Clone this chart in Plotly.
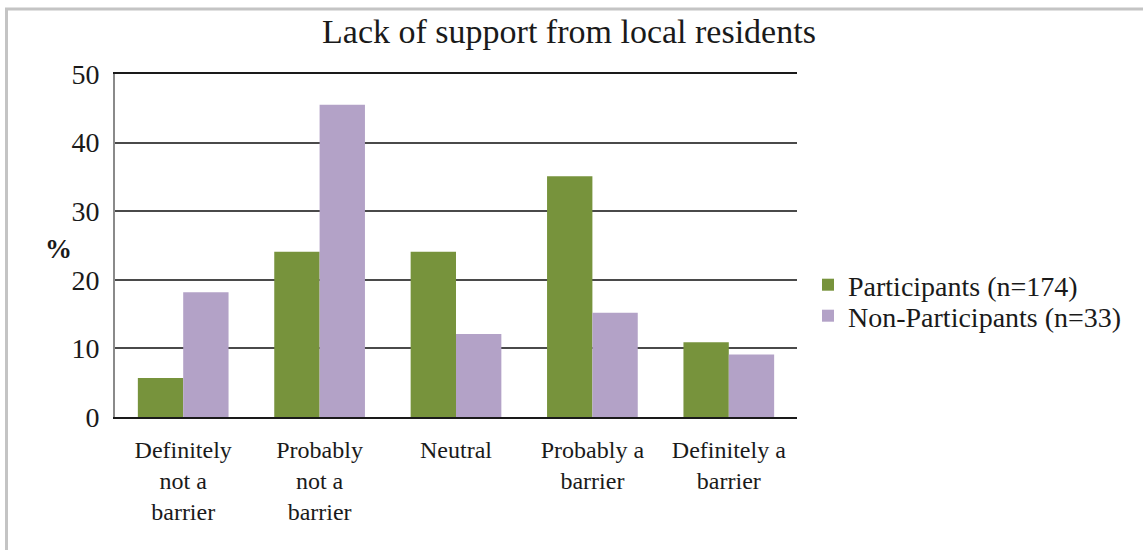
import plotly.graph_objects as go

# Survey responses, percent of each group
categories = [
    "Definitely<br>not a<br>barrier",
    "Probably<br>not a<br>barrier",
    "Neutral",
    "Probably a<br>barrier",
    "Definitely a<br>barrier",
]
participants = [5.7, 24.1, 24.1, 35.1, 10.9]
non_participants = [18.2, 45.5, 12.1, 15.2, 9.1]
series_names = ["Participants (n=174)", "Non-Participants (n=33)"]
y_ticks = [0, 10, 20, 30, 40, 50]

W, H = 1143, 550
L, R, T, B = 115, 346, 74, 133
pw, ph = W - L - R, H - T - B

def px_x(x):
    return (x - L) / pw

def px_y(y):
    return (H - B - y) / ph

serif = "Liberation Serif"
ink = "#1a1a1a"

fig = go.Figure()
fig.add_trace(go.Bar(x=categories, y=participants, name=series_names[0],
                     legend="legend", showlegend=True,
                     marker=dict(color="#77933C", line=dict(width=0))))
fig.add_trace(go.Bar(x=categories, y=non_participants, name=series_names[1],
                     legend="legend2", showlegend=True,
                     marker=dict(color="#B3A2C7", line=dict(width=0))))

# Outer frame of the chart area (top and left edges visible)
fig.add_shape(type="rect", xref="paper", yref="paper",
              x0=px_x(6.5), x1=px_x(1160), y0=px_y(9), y1=px_y(570),
              line=dict(color="#c4c4c4", width=3), layer="below")

# "%" axis caption
fig.add_annotation(text="<b>%</b>", xref="paper", yref="paper",
                   x=px_x(43), y=px_y(249), showarrow=False,
                   font=dict(family=serif, size=27, color=ink))

legend_common = dict(xanchor="left", yanchor="middle", visible=True,
                     font=dict(family=serif, size=28, color=ink),
                     bgcolor="rgba(0,0,0,0)", itemwidth=30)

fig.update_layout(
    width=W, height=H,
    margin=dict(l=L, r=R, t=T, b=B, autoexpand=False),
    paper_bgcolor="white", plot_bgcolor="white",
    showlegend=True,
    barmode="group", bargap=0.335, bargroupgap=0,
    title=dict(text="Lack of support from local residents",
               x=px_x(569), xref="paper", xanchor="center",
               y=1 - 31 / H, yanchor="middle",
               font=dict(family=serif, size=34, color=ink)),
    legend=dict(x=px_x(808), y=px_y(285), **legend_common),
    legend2=dict(x=px_x(808), y=px_y(316), **legend_common),
    xaxis=dict(showgrid=False, showline=True, linecolor="#1a1a1a",
               linewidth=2, mirror=True, ticks="", ticklabelstandoff=10,
               tickfont=dict(family=serif, size=24, color=ink)),
    yaxis=dict(range=[0, 50], tickvals=y_ticks, showgrid=True,
               gridcolor="#4a4a4a", gridwidth=2, zeroline=False,
               showline=True, linecolor="#8a8a8a", linewidth=2,
               ticks="outside", ticklen=0, ticklabelstandoff=8,
               tickfont=dict(family=serif, size=28, color=ink)),
)

fig.write_html("out.html")
